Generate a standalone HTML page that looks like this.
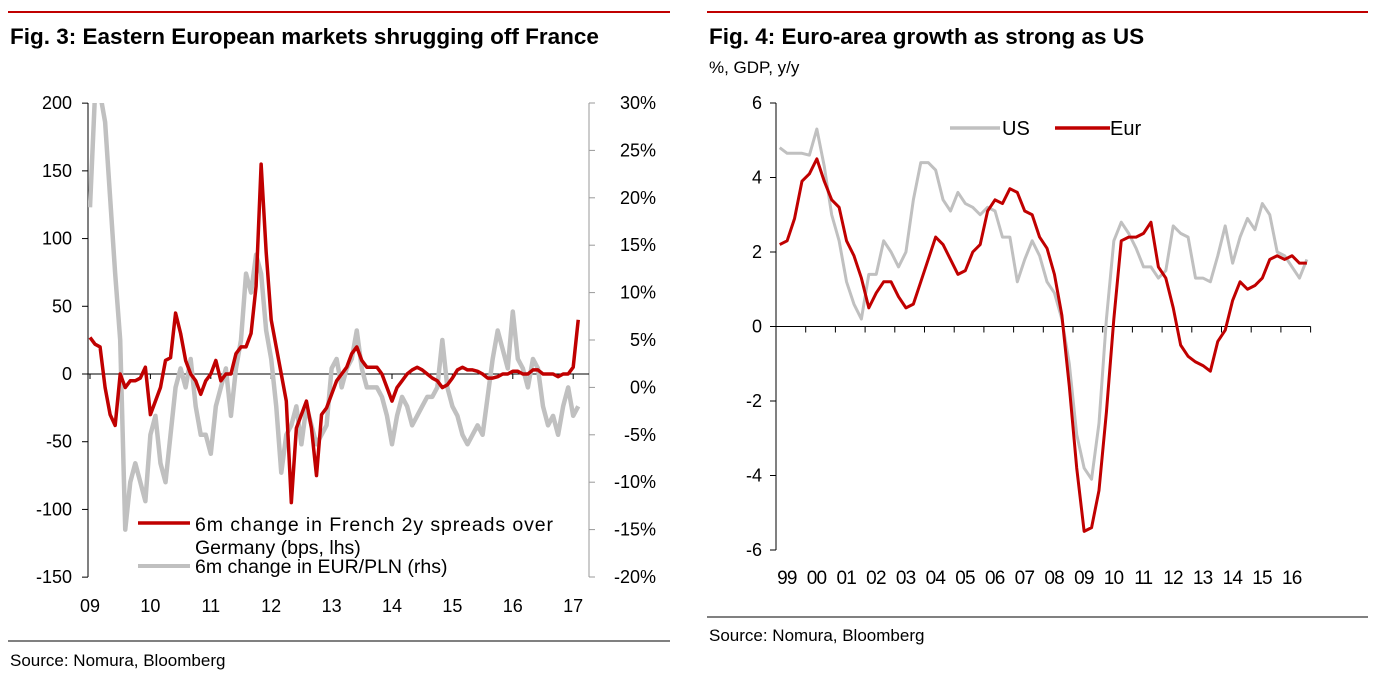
<!DOCTYPE html>
<html><head><meta charset="utf-8">
<style>
body{margin:0;background:#fff;width:1377px;height:686px;overflow:hidden;font-family:"Liberation Sans",Arial,sans-serif;}
svg text{font-family:"Liberation Sans",Arial,sans-serif;}
</style></head>
<body>
<svg id="s" width="1377" height="686">
  <line x1="8" y1="12" x2="670" y2="12" stroke="#c00000" stroke-width="2"/>
  <line x1="707" y1="12" x2="1368" y2="12" stroke="#c00000" stroke-width="2"/>
  <text x="10" y="44" font-size="22.5" font-weight="bold">Fig. 3: Eastern European markets shrugging off France</text>
  <text x="709" y="44" font-size="22.5" font-weight="bold">Fig. 4: Euro-area growth as strong as US</text>
  <text x="709" y="73" font-size="17">%, GDP, y/y</text>
  <line x1="8" y1="641" x2="670" y2="641" stroke="#000" stroke-width="1"/>
  <text x="10" y="666" font-size="17">Source: Nomura, Bloomberg</text>
  <line x1="707" y1="617" x2="1368" y2="617" stroke="#000" stroke-width="1"/>
  <text x="709" y="641" font-size="17">Source: Nomura, Bloomberg</text>
  <defs><clipPath id="c1"><rect x="88" y="103" width="501" height="474"/></clipPath></defs>
  <g id="g3"></g>
  <g id="g4"></g>
</svg>
<script>
// ---- Fig 3 data (monthly from Jan 2009) ----
const frSpread = [27,22,20,-10,-30,-38,0,-10,-5,-5,-3,5,
 -30,-20,-10,10,12,45,30,10,0,-5,-15,-5,
 0,10,-5,0,0,15,20,20,30,65,155,90,
 40,20,0,-20,-95,-40,-30,-20,-40,-75,-30,-25,
 -15,-5,0,5,15,20,10,5,5,5,0,-10,
 -20,-10,-5,0,3,5,3,0,-3,-5,-10,-8,
 -3,3,5,3,3,2,0,-3,-3,-2,0,0,
 2,2,0,0,3,3,0,0,0,-2,0,0,
 5,40];
const eurPln = [19,31,31,28,20,12,5,-15,-10,-8,-10,-12,
 -5,-3,-8,-10,-5,0,2,0,3,-2,-5,-5,
 -7,-2,0,2,-3,2,5,12,10,14,12,6,
 3,-2,-9,-5,-4,-2,-6,-2,-4,-6,-5,-4,
 2,3,0,2,3,6,2,0,0,0,-1,-3,
 -6,-3,-1,-2,-4,-3,-2,-1,-1,0,5,0,
 -2,-3,-5,-6,-5,-4,-5,-1,3,6,4,2,
 8,3,2,0,3,2,-2,-4,-3,-5,-2,0,
 -3,-2];
const lTicks = [200,150,100,50,0,-50,-100,-150];
const rTicks = [30,25,20,15,10,5,0,-5,-10,-15,-20];
const yearLabels3 = ["09","10","11","12","13","14","15","16","17"];
// ---- Fig 4 data (quarterly 1999Q1-2016Q4) ----
const usGdp = [4.8,4.65,4.65,4.65, 4.6,5.3,4.3,3.0, 2.3,1.2,0.6,0.2, 1.4,1.4,2.3,2.0, 1.6,2.0,3.4,4.4,
 4.4,4.2,3.4,3.1, 3.6,3.3,3.2,3.0, 3.2,3.1,2.4,2.4, 1.2,1.8,2.3,1.9, 1.2,0.9,0.2,-1.0,
 -2.9,-3.8,-4.1,-2.6, 0.2,2.3,2.8,2.5, 2.1,1.6,1.6,1.3, 1.5,2.7,2.5,2.4, 1.3,1.3,1.2,1.9,
 2.7,1.7,2.4,2.9, 2.6,3.3,3.0,2.0, 1.9,1.6,1.3,1.8];
const eurGdp = [2.2,2.3,2.9,3.9, 4.1,4.5,3.9,3.4, 3.2,2.3,1.9,1.3, 0.5,0.9,1.2,1.2, 0.8,0.5,0.6,1.2,
 1.8,2.4,2.2,1.8, 1.4,1.5,2.0,2.2, 3.1,3.4,3.3,3.7, 3.6,3.1,3.0,2.4, 2.1,1.4,0.3,-1.6,
 -3.8,-5.5,-5.4,-4.4, -2.3,0.2,2.3,2.4, 2.4,2.5,2.8,1.6, 1.3,0.5,-0.5,-0.8, -0.95,-1.05,-1.2,-0.4,
 -0.1,0.7,1.2,1.0, 1.1,1.3,1.8,1.9, 1.8,1.9,1.7,1.7];
const gdpTicks = [6,4,2,0,-2,-4,-6];
const yearLabels4 = ["99","00","01","02","03","04","05","06","07","08","09","10","11","12","13","14","15","16"];

const NS="http://www.w3.org/2000/svg";
function mk(parent,tag,attrs){const e=document.createElementNS(NS,tag);for(const k in attrs)e.setAttribute(k,attrs[k]);parent.appendChild(e);return e;}

// Fig 3
const g3=document.getElementById('g3');
const x3=t=>90+t*60.4;
const yL=v=>374-(v)*(474/350);
const yR=v=>103+(30-v)*(474/50);
let e;
e=mk(g3,'line',{x1:88,y1:103,x2:88,y2:577,stroke:'#000'});


lTicks.forEach(v=>{
  const y=yL(v);
  e=mk(g3,'line',{x1:82,y1:y,x2:88,y2:y,stroke:'#000'});
  
  
  e=mk(g3,'text',{x:72,y:y+6,'font-size':18,'text-anchor':'end'});e.textContent=v;
  
  
});
e=mk(g3,'line',{x1:589,y1:103,x2:589,y2:577,stroke:'#999'});


rTicks.forEach(v=>{
  const y=yR(v);
  e=mk(g3,'line',{x1:589,y1:y,x2:595,y2:y,stroke:'#999'});
  
  
  e=mk(g3,'text',{x:656,y:y+6,'font-size':18,'text-anchor':'end'});e.textContent=v+'%';
  
  
});
e=mk(g3,'line',{x1:88,y1:yL(0),x2:589,y2:yL(0),stroke:'#000'});


yearLabels3.forEach((l,i)=>{
  e=mk(g3,'line',{x1:x3(i),y1:yL(0),x2:x3(i),y2:yL(0)+5,stroke:'#000'});
  
  
  e=mk(g3,'text',{x:x3(i),y:612,'font-size':18,'text-anchor':'middle'});e.textContent=l;
  
  
});
e=mk(g3,'polyline',{points:eurPln.map((v,i)=>x3(i/12)+','+yR(v)).join(' '),fill:'none',stroke:'#c0c0c0','stroke-width':4.5,'stroke-linejoin':'round','clip-path':'url(#c1)'});


e=mk(g3,'polyline',{points:frSpread.map((v,i)=>x3(i/12)+','+yL(v)).join(' '),fill:'none',stroke:'#c00000','stroke-width':3.5,'stroke-linejoin':'round','clip-path':'url(#c1)'});


// legend
e=mk(g3,'rect',{x:135,y:510,width:430,height:66,fill:'#fff'});


e=mk(g3,'line',{x1:138,y1:523,x2:190,y2:523,stroke:'#c00000','stroke-width':3.5});


e=mk(g3,'text',{x:195,y:531,'font-size':19.5,'textLength':358});e.textContent='6m change in French 2y spreads over';


e=mk(g3,'text',{x:195,y:554,'font-size':19.5});e.textContent='Germany (bps, lhs)';


e=mk(g3,'line',{x1:138,y1:566,x2:190,y2:566,stroke:'#c0c0c0','stroke-width':4});


e=mk(g3,'text',{x:195,y:573,'font-size':19.5});e.textContent='6m change in EUR/PLN (rhs)';



// Fig 4
const g4=document.getElementById('g4');
const X0=776,YW=29.7;
const x4=q=>X0+(q+0.5)/4*YW;
const y4=v=>326.5-v*(447/12);
e=mk(g4,'line',{x1:X0,y1:103,x2:X0,y2:550,stroke:'#000'});


gdpTicks.forEach(v=>{
  const y=y4(v);
  e=mk(g4,'line',{x1:X0-6,y1:y,x2:X0,y2:y,stroke:'#000'});
  
  
  e=mk(g4,'text',{x:762,y:y+6,'font-size':18,'text-anchor':'end'});e.textContent=v;
  
  
});
e=mk(g4,'line',{x1:X0,y1:y4(0),x2:X0+18*YW,y2:y4(0),stroke:'#000'});


yearLabels4.forEach((l,i)=>{
  e=mk(g4,'line',{x1:X0+(i+1)*YW,y1:y4(0),x2:X0+(i+1)*YW,y2:y4(0)+6,stroke:'#000'});
  
  
  e=mk(g4,'text',{x:X0+(i+0.5)*YW-4,y:584,'font-size':19,'text-anchor':'middle','letter-spacing':'-0.8'});e.textContent=l;
  
  
});
e=mk(g4,'polyline',{points:usGdp.map((v,i)=>x4(i)+','+y4(v)).join(' '),fill:'none',stroke:'#c0c0c0','stroke-width':3,'stroke-linejoin':'round'});


e=mk(g4,'polyline',{points:eurGdp.map((v,i)=>x4(i)+','+y4(v)).join(' '),fill:'none',stroke:'#c00000','stroke-width':3,'stroke-linejoin':'round'});


e=mk(g4,'line',{x1:950,y1:128,x2:1000,y2:128,stroke:'#c0c0c0','stroke-width':3.5});


e=mk(g4,'text',{x:1002,y:135,'font-size':20});e.textContent='US';


e=mk(g4,'line',{x1:1055,y1:128,x2:1110,y2:128,stroke:'#c00000','stroke-width':3.5});


e=mk(g4,'text',{x:1110,y:135,'font-size':20});e.textContent='Eur';


</script>
</body></html>
